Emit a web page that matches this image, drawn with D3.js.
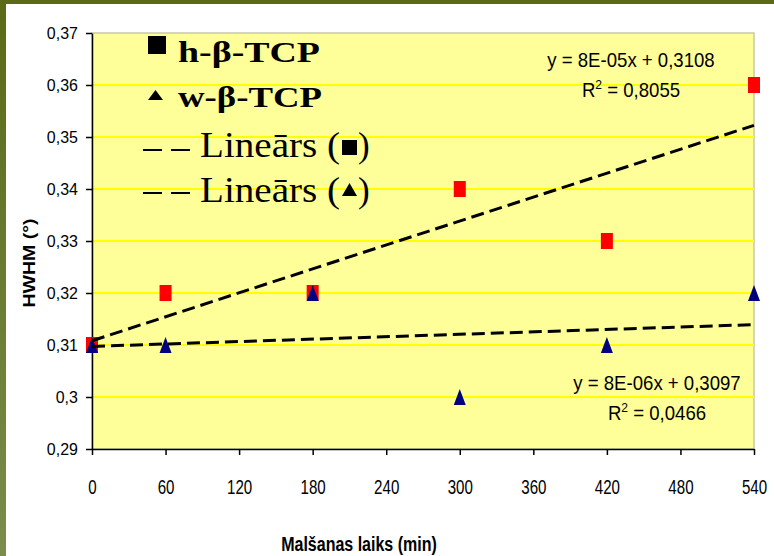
<!DOCTYPE html>
<html>
<head>
<meta charset="utf-8">
<script src="https://cdn.jsdelivr.net/npm/d3@7/dist/d3.min.js"></script>
<style>
  html, body { margin: 0; padding: 0; background: #fff; overflow: hidden; }
  svg { display: block; }
</style>
</head>
<body>
<svg id="chart" width="774" height="556"></svg>
<script>
// Milling time (min) and peak HWHM (°) for the two β-TCP powders
const times = [0, 60, 180, 300, 420, 540];
const hTCP = [0.31, 0.32, 0.32, 0.34, 0.33, 0.36];
const wTCP = [0.31, 0.31, 0.32, 0.30, 0.31, 0.32];

const xTicks = [0, 60, 120, 180, 240, 300, 360, 420, 480, 540];
const yTicks = [0.29, 0.30, 0.31, 0.32, 0.33, 0.34, 0.35, 0.36, 0.37];
const yTickLabels = ["0,29", "0,3", "0,31", "0,32", "0,33", "0,34", "0,35", "0,36", "0,37"];

const seriesNames = ["h-β-TCP", "w-β-TCP"];
const trendLabel = ["Lineārs (", ")"];
const eqH = ["y = 8E-05x + 0,3108", " = 0,8055"];
const eqW = ["y = 8E-06x + 0,3097", " = 0,0466"];
const xTitle = "Malšanas laiks (min)";
const yTitle = "HWHM (°)";

const svg = d3.select("#chart");
const sans = "'Liberation Sans', Arial, Helvetica, sans-serif";
const serif = "'Liberation Serif', 'Times New Roman', serif";

// page frame: olive band on top and a shaded strip on the left
const grad = svg.append("defs").append("linearGradient")
  .attr("id", "strip").attr("x1", 0).attr("y1", 0).attr("x2", 0).attr("y2", 1);
grad.append("stop").attr("offset", 0).attr("stop-color", "#5a6a17");
grad.append("stop").attr("offset", 1).attr("stop-color", "#7b8c4c");
svg.append("rect").attr("x", 0).attr("y", 0).attr("width", 774).attr("height", 4).attr("fill", "#5c6a18");
svg.append("rect").attr("x", 0).attr("y", 0).attr("width", 6).attr("height", 556).attr("fill", "url(#strip)");

const x = d3.scaleLinear().domain([0, 540]).range([92, 754]);
const y = d3.scaleLinear().domain([0.29, 0.37]).range([449, 33]);

// plot area
svg.append("rect")
  .attr("x", x(0)).attr("y", y(0.37))
  .attr("width", x(540) - x(0)).attr("height", y(0.29) - y(0.37))
  .attr("fill", "#ffff99").attr("stroke", "#c9c9a6").attr("stroke-width", 1.5);

svg.append("g").selectAll("line")
  .data(yTicks.filter(d => d > 0.29 && d < 0.37))
  .join("line")
  .attr("x1", x(0)).attr("x2", x(540))
  .attr("y1", d => y(d)).attr("y2", d => y(d))
  .attr("stroke", "#ffff00").attr("stroke-width", 2);

// axes
const yAxis = svg.append("g").attr("transform", `translate(${x(0)},0)`)
  .call(d3.axisLeft(y).tickValues(yTicks).tickFormat((d, i) => yTickLabels[i])
    .tickSize(6).tickSizeOuter(0).tickPadding(9));
yAxis.selectAll("text")
  .attr("font-family", sans).attr("font-size", 17).attr("fill", "#000")
  .attr("transform", "scale(0.94,1)");

const xAxis = svg.append("g").attr("transform", `translate(0,${y(0.29)})`)
  .call(d3.axisBottom(x).tickValues(xTicks).tickFormat(d3.format("d"))
    .tickSize(6).tickSizeOuter(0));
xAxis.selectAll("text")
  .attr("font-family", sans).attr("font-size", 21).attr("fill", "#000")
  .attr("y", 45).attr("dy", 0)
  .attr("transform", "scale(0.72,1)");

[yAxis, xAxis].forEach(a => {
  a.select(".domain").attr("stroke", "#000").attr("stroke-width", 1.5);
  a.selectAll(".tick line").attr("stroke", "#000").attr("stroke-width", 1.5);
});

// markers
const tri = "M0,-8L6,8L-6,8Z";
svg.append("g").selectAll("rect")
  .data(times.map((t, i) => [t, hTCP[i]]))
  .join("rect")
  .attr("x", d => x(d[0]) - 6).attr("y", d => y(d[1]) - 8)
  .attr("width", 12).attr("height", 16)
  .attr("fill", "#ff0000");
svg.append("g").selectAll("path")
  .data(times.map((t, i) => [t, wTCP[i]]))
  .join("path")
  .attr("d", tri)
  .attr("transform", d => `translate(${x(d[0])},${y(d[1])})`)
  .attr("fill", "#000080");

// least-squares trend lines
function fit(xs, ys) {
  const mx = d3.mean(xs), my = d3.mean(ys);
  const sxy = d3.sum(xs, (v, i) => (v - mx) * (ys[i] - my));
  const sxx = d3.sum(xs, v => (v - mx) * (v - mx));
  const b = sxy / sxx;
  return t => my + b * (t - mx);
}
const line = d3.line().x(d => x(d[0])).y(d => y(d[1]));
[hTCP, wTCP].forEach(vals => {
  const f = fit(times, vals);
  svg.append("path")
    .attr("d", line([[0, f(0)], [540, f(540)]]))
    .attr("fill", "none").attr("stroke", "#000")
    .attr("stroke-width", 3).attr("stroke-dasharray", "13,6");
});

// regression equations
function equation(cx, base, eq) {
  const g = svg.append("g").attr("transform", `translate(${cx},${base}) scale(0.93,1)`)
    .attr("font-family", sans).attr("font-size", 20).attr("fill", "#000");
  g.append("text").attr("text-anchor", "middle").text(eq[0]);
  const r = g.append("text").attr("text-anchor", "middle").attr("y", 30);
  r.append("tspan").text("R");
  r.append("tspan").attr("font-size", 13).attr("dy", -8).text("2");
  r.append("tspan").attr("dy", 8).text(eq[1]);
}
equation(631, 67, eqH);
equation(657, 390, eqW);

// legend
const leg = svg.append("g").attr("fill", "#000");
leg.append("rect").attr("x", 148).attr("y", 36).attr("width", 18).attr("height", 18);
leg.append("text").attr("x", 178).attr("y", 62)
  .attr("font-family", serif).attr("font-weight", "bold").attr("font-size", 30)
  .attr("textLength", 142).attr("lengthAdjust", "spacingAndGlyphs").text(seriesNames[0]);
leg.append("path").attr("d", "M155.5,90L163,100L148,100Z");
leg.append("text").attr("x", 178).attr("y", 107)
  .attr("font-family", serif).attr("font-weight", "bold").attr("font-size", 30)
  .attr("textLength", 144).attr("lengthAdjust", "spacingAndGlyphs").text(seriesNames[1]);

[[150, 157, "sq"], [193, 202, "tri"]].forEach(([ly, base, kind]) => {
  leg.append("line").attr("x1", 143).attr("x2", 190).attr("y1", ly).attr("y2", ly)
    .attr("stroke", "#000").attr("stroke-width", 2).attr("stroke-dasharray", "19,9");
  leg.append("text").attr("x", 200).attr("y", base)
    .attr("font-family", serif).attr("font-size", 35)
    .attr("textLength", 140).attr("lengthAdjust", "spacingAndGlyphs").text(trendLabel[0]);
  if (kind === "sq") {
    leg.append("rect").attr("x", 342).attr("y", base - 17).attr("width", 15).attr("height", 15);
  } else {
    leg.append("path").attr("d", `M349.5,${base - 19}L357,${base - 6}L342,${base - 6}Z`);
  }
  leg.append("text").attr("x", 358).attr("y", base)
    .attr("font-family", serif).attr("font-size", 35).text(trendLabel[1]);
});

// axis titles
svg.append("text")
  .attr("transform", "translate(359,551) scale(0.8,1)")
  .attr("text-anchor", "middle")
  .attr("font-family", sans).attr("font-weight", "bold").attr("font-size", 20)
  .text(xTitle);
svg.append("text")
  .attr("transform", "translate(35,263) rotate(-90) scale(1.15,1)")
  .attr("text-anchor", "middle")
  .attr("font-family", sans).attr("font-weight", "bold").attr("font-size", 17)
  .text(yTitle);
</script>
</body>
</html>
